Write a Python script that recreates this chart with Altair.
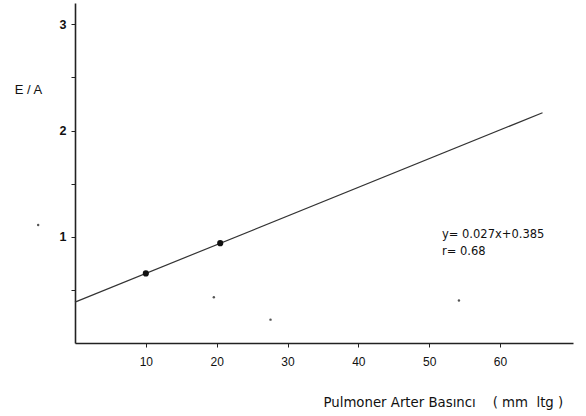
import altair as alt
import pandas as pd

# measured points
pt_x = [10.0, 20.5]
pt_y = [0.655, 0.94]

# regression line endpoints (y = 0.027x + 0.385)
line_x = [0.0, 66.0]
line_y = [0.385, 2.167]

# faint specks in the figure
speck_x = [19.6, 27.6, 54.2, -5.2]
speck_y = [0.43, 0.22, 0.40, 1.11]

x_ticks = [10, 20, 30, 40, 50, 60]
y_ticks = [0.5, 1, 1.5, 2, 2.5, 3]

ann_text = ["y= 0.027x+0.385", "r= 0.68"]
ann_x = [51.8, 51.8]
ann_y = [1.02, 0.86]

NB = "\u00a0"
x_title = "Pulmoner Arter Basıncı" + NB * 4 + "(" + NB + "mm" + NB * 2 + "ltg" + NB + ")"
y_title = "E / A"

FONT = "Liberation Sans"
FONT2 = "DejaVu Sans"

xs = alt.Scale(domain=[0, 70.3], nice=False, zero=False)
ys = alt.Scale(domain=[0, 3.2], nice=False, zero=False)

pts = pd.DataFrame({"x": pt_x, "y": pt_y})
ln = pd.DataFrame({"x": line_x, "y": line_y})
sp = pd.DataFrame({"x": speck_x, "y": speck_y})
ann = pd.DataFrame({"x": ann_x, "y": ann_y, "t": ann_text})

x_axis = alt.Axis(values=x_ticks, grid=False, domainColor="#222", domainWidth=1.6,
                  tickColor="#222", tickSize=4, labelPadding=9, labelFont=FONT,
                  labelFontSize=12, labelColor="#111",
                  title=x_title, titleFont=FONT2,
                  titleFontSize=13.3, titleFontWeight="normal", titleColor="#111",
                  titleAnchor="start", titleAlign="left", titleX=248, titleY=59,
                  titleBaseline="middle")
y_axis = alt.Axis(values=y_ticks, grid=False, domainColor="#222", domainWidth=1.6,
                  tickColor="#222", tickSize=4, labelPadding=5, labelFont=FONT,
                  labelFontSize=12.5, labelColor="#111", labelFontWeight="bold",
                  labelExpr="datum.value % 1 == 0 ? format(datum.value, 'd') : ''",
                  title=y_title, titleFont=FONT, titleFontSize=13,
                  titleFontWeight="normal", titleColor="#111", titleAngle=0,
                  titleAlign="center", titleBaseline="middle", titleX=-47, titleY=86)

line = alt.Chart(ln).mark_line(color="#333", strokeWidth=1.2).encode(
    x=alt.X("x:Q", scale=xs, axis=x_axis),
    y=alt.Y("y:Q", scale=ys, axis=y_axis),
)
dots = alt.Chart(pts).mark_point(filled=True, color="#111", size=38, opacity=1).encode(
    x=alt.X("x:Q", scale=xs), y=alt.Y("y:Q", scale=ys))
specks = alt.Chart(sp).mark_point(filled=True, color="#555", size=6, opacity=1, clip=False).encode(
    x=alt.X("x:Q", scale=xs), y=alt.Y("y:Q", scale=ys))
text = alt.Chart(ann).mark_text(align="left", baseline="middle", font=FONT2,
                                fontSize=11.5, color="#111").encode(
    x=alt.X("x:Q", scale=xs), y=alt.Y("y:Q", scale=ys), text="t:N")

chart = alt.layer(line, dots, specks, text).properties(
    width=498, height=340,
    autosize=alt.AutoSizeParams(type="none"),
    padding={"left": 75, "top": 3, "right": 13, "bottom": 73},
    background="white",
).configure_view(stroke=None)

chart.save("out.html", embed_options={"renderer": "svg", "actions": False})
